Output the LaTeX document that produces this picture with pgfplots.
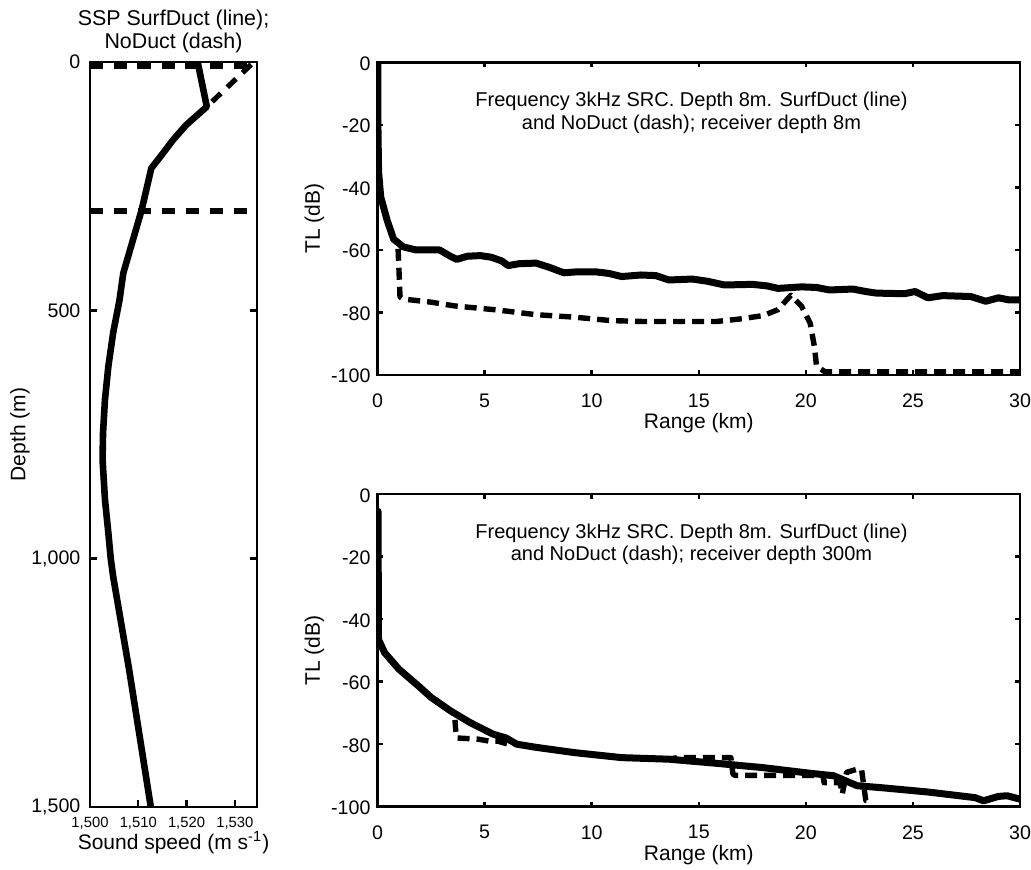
\documentclass[border=0pt]{standalone}
\usepackage{fontspec}
\setmainfont{Liberation Sans}
\usepackage{pgfplots}
\pgfplotsset{compat=1.18}
\pgfplotsset{
  every axis title shift=0pt,
  base/.style={
    scale only axis,
    axis line style={line width=1.2pt},
    tick align=inside,
    tick style={line width=1.2pt, black},
    major tick length=2.5pt,
    tick label style={font=\fontsize{9.8}{11}\selectfont},
    label style={font=\fontsize{10.5}{12}\selectfont},
  },
  tlaxis/.style={base,
    width=321.25pt, height=156.25pt,
    xmin=0, xmax=30, ymin=-100, ymax=0,
    xtick={0,5,10,15,20,25,30}, xticklabels={0,5,10,15,20,25,30},
    ytick={-100,-80,-60,-40,-20,0}, yticklabels={-100,-80,-60,-40,-20,0},
    xlabel={Range (km)}, ylabel={TL (dB)},
    xlabel style={at={(axis description cs:0.5,-0.154)}, anchor=center},
    ylabel style={at={(axis description cs:-0.098,0.5)}, anchor=center},
    xticklabel style={yshift=-5.8pt},
    yticklabel style={yshift=-0.6pt},
  },
  solidline/.style={black, line width=3.5pt, line join=round, line cap=round},
  dashline/.style={black, line width=2.7pt, dash pattern=on 6pt off 3.5pt, line join=round},
}
\begin{document}
\begin{tikzpicture}
\useasboundingbox (0,0) rectangle (515.5pt,435pt);

% ---------------- Sound speed profile ----------------
\begin{axis}[base,
  at={(45pt,31.5pt)}, anchor=south west,
  width=83.5pt, height=372.5pt,
  xmin=1500, xmax=1534.6, ymin=0, ymax=1500, y dir=reverse,
  major tick length=3.3pt,
  xtick={1500,1510,1520,1530}, xticklabels={{1,500},{1,510},{1,520},{1,530}},
  xticklabel style={font=\fontsize{7.4}{9}\selectfont, yshift=-1.4pt},
  ytick={0,500,1000,1500}, yticklabels={0,500,{1,000},{1,500}},
  yticklabel style={xshift=-1.3pt},
  xlabel={Sound speed (m s\textsuperscript{-1})},
  ylabel={Depth (m)},
  xlabel style={at={(axis description cs:0.5,-0.048)}, anchor=center},
  ylabel style={at={(axis description cs:-0.419,0.5)}, anchor=center},
  title={SSP SurfDuct (line);\\NoDuct (dash)},
  title style={align=center, font=\fontsize{10.7}{11.5}\selectfont,
    at={(axis description cs:0.5,1.041)}, anchor=center},
]
\addplot[solidline, line width=3.3pt] coordinates {
 (1522.3,0) (1524.2,90) (1519.9,127) (1517.2,157) (1515.1,184) (1512.7,214)
 (1510.7,298) (1506.9,425) (1506.1,480) (1504.8,545) (1503.8,613) (1503.1,680)
 (1502.7,747) (1502.6,800) (1503.1,881) (1503.8,948) (1504.3,1000) (1504.8,1036)
 (1508.1,1223) (1512.6,1500)};
\addplot[black, line width=2.6pt, dash pattern=on 6pt off 4.5pt] coordinates {(1533.4,5) (1524.2,90)};
\addplot[black, line width=3pt, dash pattern=on 6.5pt off 5.5pt] coordinates {(1500,8) (1534.6,8)};
\addplot[black, line width=3pt, dash pattern=on 6.5pt off 5.5pt] coordinates {(1500,300) (1534.6,300)};
\end{axis}

% ---------------- TL, receiver depth 8 m ----------------
\begin{axis}[tlaxis, at={(188.75pt,247.5pt)}, anchor=south west]
\addplot[dashline] coordinates {
 (0.02,0) (0.02,-20) (0.05,-35) (0.15,-43) (0.45,-50.5) (0.75,-56.5) (0.95,-58)
 (1.0,-66) (1.05,-75) (1.2,-75.7) (2.5,-76.7) (3.6,-77.9) (5.6,-79.2) (7.4,-80.7)
 (9.2,-81.5) (10.9,-82.6) (12.5,-82.9) (15.8,-82.9) (16.9,-82.1) (18,-81)
 (18.7,-79.1) (19.1,-76) (19.3,-74.5) (19.8,-78) (20.2,-83.4) (20.4,-90.9)
 (20.5,-97.2) (20.9,-99) (30,-99)};
\addplot[solidline] coordinates {
 (0.02,0) (0.02,-20) (0.05,-35) (0.15,-43) (0.45,-50.5) (0.75,-56.5) (1.2,-59)
 (1.8,-60) (2.9,-60) (3.4,-62) (3.7,-63) (4.2,-62) (4.8,-61.8) (5.3,-62.3)
 (5.8,-63.5) (6.1,-65) (6.6,-64.4) (7.4,-64.2) (8.0,-65.5) (8.7,-67.3) (9.3,-67)
 (10.2,-67) (10.8,-67.5) (11.4,-68.5) (12.3,-68) (13.0,-68.2) (13.6,-69.6)
 (14.7,-69.3) (15.4,-70) (16.2,-71.2) (17.5,-71) (18.2,-71.5) (18.7,-72.3)
 (19.8,-71.8) (20.5,-72) (21.1,-72.8) (22.2,-72.5) (22.8,-73.3) (23.3,-73.8)
 (24.6,-74) (25.1,-73.3) (25.7,-75.3) (26.4,-74.6) (27.7,-74.9) (28.4,-76.4)
 (29,-75.3) (29.5,-76) (30,-76)};
\node[align=center, font=\fontsize{10}{11.15}\selectfont] at (axis cs:14.66,-16.1)
 {Frequency 3kHz SRC. Depth 8m. SurfDuct (line)\\and NoDuct (dash); receiver depth 8m};
\end{axis}

% ---------------- TL, receiver depth 300 m ----------------
\begin{axis}[tlaxis, at={(188.75pt,31.65pt)}, anchor=south west]
\addplot[dashline] coordinates {
 (0.04,-46.4) (0.33,-50.7) (1.0,-56) (1.9,-61.3) (2.5,-65) (3.4,-69.3) (3.6,-70.5)
 (3.65,-75.5) (3.7,-78) (4.7,-78.4) (5.2,-79) (5.6,-79) (6.1,-80) (6.5,-80)
 (7.4,-81) (9.2,-82.7) (11.4,-84.3) (13.6,-84.8) (14.0,-84.3) (16.5,-84.3)
 (16.6,-89.6) (16.7,-90) (20.8,-90) (20.85,-92.3) (21.6,-92.3) (21.7,-96)
 (21.9,-89) (22.4,-88) (22.6,-88) (22.8,-98) (23,-98)};
\addplot[solidline] coordinates {
 (0.03,-5.5) (0.04,-46.4) (0.33,-50.7) (1.0,-56) (1.9,-61.3) (2.5,-65)
 (3.4,-69.3) (4.3,-73) (5.4,-76.8) (6.0,-78) (6.5,-80) (7.4,-81) (9.2,-82.7)
 (11.4,-84.3) (13.6,-84.8) (15.8,-86.1) (18,-87.5) (20.2,-89.3) (21.3,-90.1)
 (22.4,-93.3) (23.5,-93.9) (25.7,-95.3) (27.9,-97.1) (28.3,-98.1) (29,-96.7)
 (29.4,-96.5) (30,-97.6)};
\node[align=center, font=\fontsize{10}{11.15}\selectfont] at (axis cs:14.66,-16.1)
 {Frequency 3kHz SRC. Depth 8m. SurfDuct (line)\\and NoDuct (dash); receiver depth 300m};
\end{axis}
\end{tikzpicture}
\end{document}
